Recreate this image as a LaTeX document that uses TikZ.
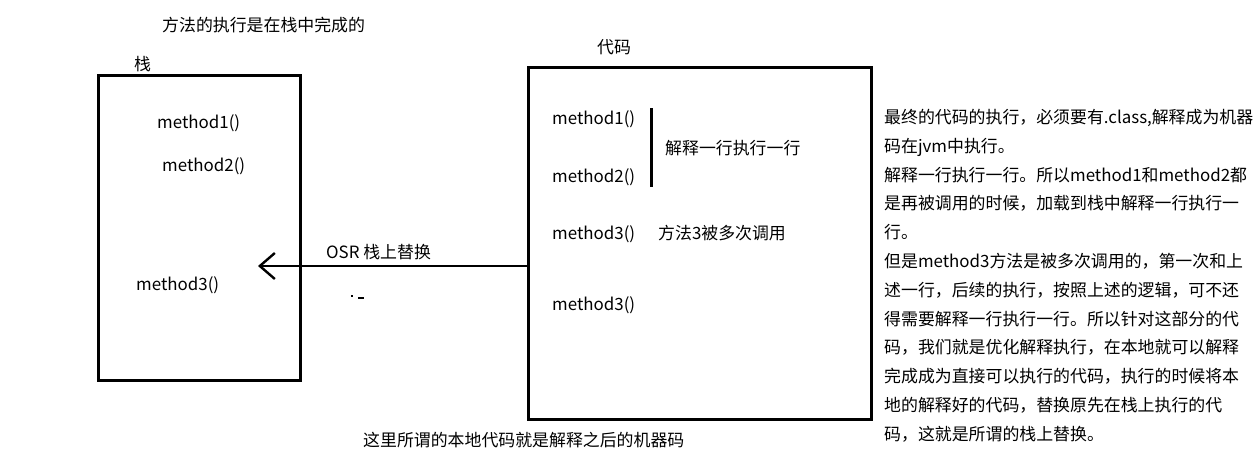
\documentclass[tikz,border=0pt]{standalone}
\usepackage{fontspec}
\newfontfamily\cjk{Noto Sans CJK SC}
\usetikzlibrary{arrows.meta}

\tikzset{
  box/.style={line width=3pt,black},
  txt/.style={text=black,anchor=base west,inner sep=0pt,font=\cjk\fontsize{16.9}{28.8}\selectfont},
  osr/.style={line width=2.6pt,black,-{Straight Barb[length=15pt,width=26pt,line width=2.4pt]}}
}

\begin{document}
\begin{tikzpicture}[x=1pt,y=-1pt]
\useasboundingbox (0,0) rectangle (1257,471);

% the two boxes:
\draw[box] (98,75) rectangle (300,380);
\draw[box] (528,67) rectangle (871,419);
\coordinate (barTop) at (651,108);
\coordinate (barBot) at (651,187);
\draw[box] (barTop) -- (barBot);

% titles
\path (162,31) node[txt] (title) {方法的执行是在栈中完成的};
\path (134,70) node[txt] (stackLabel) {栈};
\path (597,53) node[txt] (codeLabel) {代码};

% stack content
\path (157,128) node[txt] (stackOne) {method1()};
\path (162,171) node[txt] (stackTwo) {method2()};
\path (136,290) node[txt] (stackThree) {method3()};

% code content
\path (552,124) node[txt] (codeOne) {method1()};
\path (552,182) node[txt] (codeTwo) {method2()};
\path (552,239) node[txt] (codeThree) {method3()};
\path (552,310) node[txt] (codeFour) {method3()};
\path (665,154) node[txt] (lineByLine) {解释一行执行一行};
\path (658,239) node[txt] (manyCalls) {方法3被多次调用};

% on-stack replacement
\coordinate (osrStart) at (528,266);
\coordinate (osrTip) at (258,266);
\draw[osr] (osrStart) -- (osrTip);
\path (326,258) node[txt] (osrLabel) {OSR 栈上替换};
\fill[black] (351,295) rectangle (353,297);
\fill[black] (358,297) rectangle (364,299);

\path (363,446) node[txt] (nativeNote) {这里所谓的本地代码就是解释之后的机器码};

% explanation on the right
\path (884,109) node[txt,anchor=north west,align=left] (explain) {%
最终的代码的执行，必须要有.class,解释成为机器\\
码在jvm中执行。\\
解释一行执行一行。所以method1和method2都\\
是再被调用的时候，加载到栈中解释一行执行一\\
行。\\
但是method3方法是被多次调用的，第一次和上\\
述一行，后续的执行，按照上述的逻辑，可不还\\
得需要解释一行执行一行。所以针对这部分的代\\
码，我们就是优化解释执行，在本地就可以解释\\
完成成为直接可以执行的代码，执行的时候将本\\
地的解释好的代码，替换原先在栈上执行的代\\
码，这就是所谓的栈上替换。};

\end{tikzpicture}
\end{document}
